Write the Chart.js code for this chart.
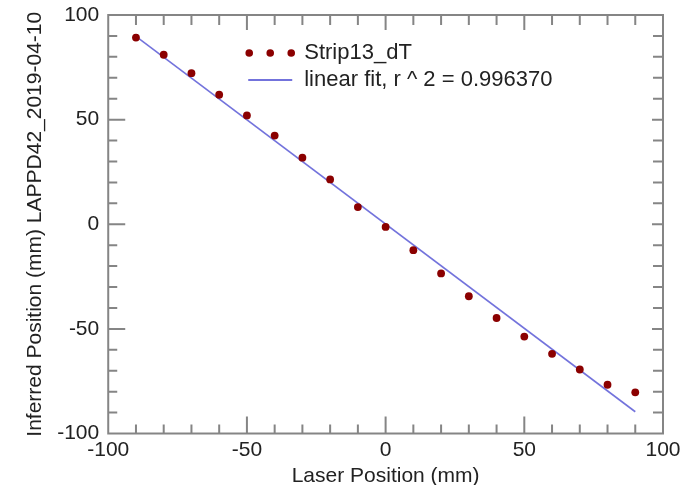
<!DOCTYPE html>
<html>
<head>
  <title>Strip13 dT - Laser Position</title>
  <script src="https://cdn.jsdelivr.net/npm/chart.js"></script>
  <style>
    body { margin: 0; background: #fff; }
    #wrap { width: 693px; height: 485px; }
  </style>
</head>
<body>
<div id="wrap"><canvas id="posChart" width="693" height="485"></canvas></div>

<script>
// laser position (mm) and inferred position (mm)
const laserPos = [-90, -80, -70, -60, -50, -40, -30, -20, -10, 0, 10, 20, 30, 40, 50, 60, 70, 80, 90];
const inferredPos = [89.2, 81.0, 72.2, 61.9, 52.0, 42.4, 31.8, 21.4, 8.2, -1.3, -12.4, -23.5, -34.4, -44.8, -53.7, -61.9, -69.4, -76.7, -80.3];
// ends of the linear fit
const fitX = [-90, 90];
const fitY = [89.8, -89.6];
const axisMin = -100, axisMax = 100, majorStep = 50, minorStep = 10;

const seriesName = "Strip13_dT";
const fitName = "linear fit, r ^ 2 = 0.996370";

const FONT = "'Liberation Sans', Arial, Helvetica, sans-serif";
const dotColor = "#8b0000";
const fitColor = "#7373dc";
const frameColor = "#858585";

// box round the plot plus inward ticks on all four sides
const frameTicks = {
  id: "frameTicks",
  afterDraw(chart) {
    const ctx = chart.ctx, a = chart.chartArea;
    const xs = chart.scales.x, ys = chart.scales.y;
    ctx.save();
    ctx.strokeStyle = frameColor;
    ctx.lineWidth = 2;
    for (let v = axisMin + minorStep; v < axisMax; v += minorStep) {
      const major = v % majorStep === 0;
      const px = xs.getPixelForValue(v);
      const py = ys.getPixelForValue(v);
      ctx.beginPath();
      // bottom / top
      ctx.moveTo(px, a.bottom); ctx.lineTo(px, a.bottom - (major ? 17 : 9));
      ctx.moveTo(px, a.top); ctx.lineTo(px, a.top + (major ? 15 : 10));
      // left / right
      ctx.moveTo(a.left, py); ctx.lineTo(a.left + (major ? 17 : 9), py);
      ctx.moveTo(a.right, py); ctx.lineTo(a.right - (major ? 11 : 10), py);
      ctx.stroke();
    }
    ctx.strokeRect(a.left, a.top, a.right - a.left, a.bottom - a.top);
    ctx.restore();
  }
};

// legend inside the plot: three dots for the series, a short line for the fit
const innerLegend = {
  id: "innerLegend",
  afterDraw(chart) {
    const ctx = chart.ctx, a = chart.chartArea;
    const x0 = a.left + 141, y0 = a.top + 38;
    ctx.save();
    ctx.fillStyle = dotColor;
    [0, 21, 42].forEach(dx => {
      ctx.beginPath();
      ctx.arc(x0 + dx, y0, 3.8, 0, Math.PI * 2);
      ctx.fill();
    });
    ctx.strokeStyle = fitColor;
    ctx.lineWidth = 2;
    ctx.beginPath();
    ctx.moveTo(x0 - 1, y0 + 27); ctx.lineTo(x0 + 43, y0 + 27);
    ctx.stroke();
    ctx.fillStyle = "#222";
    ctx.font = "22px " + FONT;
    ctx.textBaseline = "middle";
    ctx.fillText(seriesName, x0 + 55, y0);
    ctx.fillText(fitName, x0 + 55, y0 + 27);
    ctx.restore();
  }
};

new Chart(document.getElementById("posChart"), {
  type: "scatter",
  data: {
    datasets: [{
      label: seriesName,
      data: laserPos.map((x, i) => ({ x: x, y: inferredPos[i] })),
      backgroundColor: dotColor,
      borderColor: dotColor,
      pointRadius: 3.9,
      pointBorderWidth: 0,
      order: 1
    }, {
      label: fitName,
      data: fitX.map((x, i) => ({ x: x, y: fitY[i] })),
      showLine: true,
      borderColor: fitColor,
      borderWidth: 1.6,
      pointRadius: 0,
      order: 2
    }]
  },
  options: {
    responsive: false,
    animation: false,
    layout: { padding: { left: 19, right: 30, top: 15, bottom: -2 } },
    plugins: { legend: { display: false }, tooltip: { enabled: false } },
    scales: {
      x: {
        min: axisMin, max: axisMax,
        grid: { display: false, drawTicks: false },
        border: { display: false },
        ticks: { stepSize: majorStep, padding: 11.5, color: "#222", font: { family: FONT, size: 21, lineHeight: 0.452 } },
        title: { display: true, text: "Laser Position (mm)", color: "#222", padding: 0,
                 font: { family: FONT, size: 21, lineHeight: 1 } }
      },
      y: {
        min: axisMin, max: axisMax,
        grid: { display: false, drawTicks: false },
        border: { display: false },
        ticks: { stepSize: majorStep, padding: 9, color: "#222", font: { family: FONT, size: 21 } },
        title: { display: true, text: "Inferred Position (mm) LAPPD42_2019-04-10", color: "#222",
                 padding: { top: 4, bottom: 0 }, font: { family: FONT, size: 21 } },
        // the end labels may stick out past the plot box, as in the original
        afterFit(scale) { scale.paddingTop = 0; scale.paddingBottom = 0; }
      }
    }
  },
  plugins: [frameTicks, innerLegend]
});
</script>
</body>
</html>
